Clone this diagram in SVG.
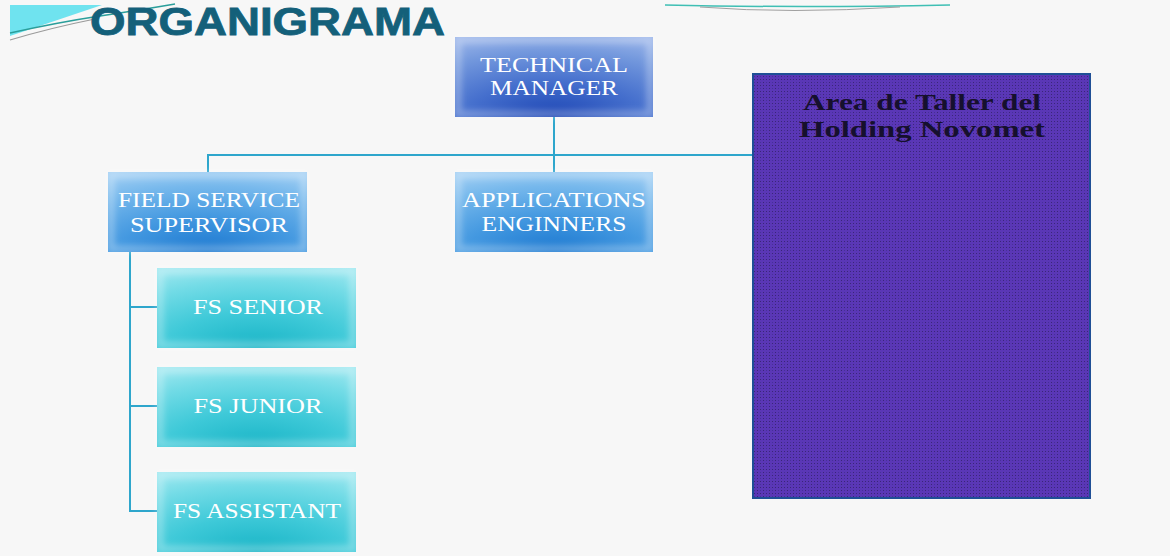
<svg xmlns="http://www.w3.org/2000/svg" width="1170" height="556" viewBox="0 0 1170 556">
<style>
.lbl{font-family:"Liberation Serif","Times New Roman",serif;font-size:22px;fill:#ffffff;text-anchor:middle}
.dark{font-family:"Liberation Serif","Times New Roman",serif;font-size:24px;font-weight:bold;fill:#16102e;text-anchor:middle}
.conn{stroke:#2ea6cc;stroke-width:2;fill:none}
.glow{fill:none;stroke:#ffffff;stroke-opacity:0.3;stroke-width:7;filter:url(#blur)}
</style>
<defs>
<filter id="blur" x="-10%" y="-20%" width="120%" height="140%"><feGaussianBlur stdDeviation="3"/></filter>
<radialGradient id="gTop" cx="50%" cy="100%" r="110%" fx="50%" fy="100%">
<stop offset="0" stop-color="#1c45b4"/><stop offset="0.4" stop-color="#456fcd"/><stop offset="0.75" stop-color="#7398dd"/><stop offset="1" stop-color="#9cb6ea"/>
</radialGradient>
<radialGradient id="gMid" cx="50%" cy="100%" r="110%" fx="50%" fy="100%">
<stop offset="0" stop-color="#1b78d0"/><stop offset="0.4" stop-color="#4398e0"/><stop offset="0.75" stop-color="#76b8ec"/><stop offset="1" stop-color="#a4d0f4"/>
</radialGradient>
<radialGradient id="gFs" cx="50%" cy="100%" r="110%" fx="50%" fy="100%">
<stop offset="0" stop-color="#18b4c6"/><stop offset="0.4" stop-color="#3ec9d8"/><stop offset="0.75" stop-color="#72dbe6"/><stop offset="1" stop-color="#a0e8f0"/>
</radialGradient>
<pattern id="dots" width="6" height="6" patternUnits="userSpaceOnUse">
<rect width="6" height="6" fill="#5a37b6"/>
<rect x="1" y="1" width="1" height="1" fill="#3a2678"/>
<rect x="4" y="1" width="1" height="1" fill="#3a2678"/>
<rect x="1" y="4" width="1" height="1" fill="#3a2678"/>
<rect x="4" y="4" width="1" height="1" fill="#46309a"/>
</pattern>
</defs>
<rect width="1170" height="556" fill="#f7f7f7"/>
<g id="decor">
<polygon points="10,5 102,5 10,36" fill="#6fe3ef"/>
<path d="M10,33 Q60,22 100,16 T175,4" stroke="#2a9e9a" stroke-width="1.5" fill="none"/>
<path d="M10,40 Q50,28 95,19" stroke="#9a9a9a" stroke-width="1.2" fill="none"/>
<path d="M665,5 Q800,8 950,5" stroke="#3fbfb4" stroke-width="1.5" fill="none"/>
<path d="M700,7 Q790,14 900,7" stroke="#a0a0a0" stroke-width="1" fill="none"/>
<text x="90" y="35" font-family="'Liberation Sans',Arial,sans-serif" font-weight="bold" font-size="38" fill="#14607a" stroke="#14607a" stroke-width="0.8" textLength="355" lengthAdjust="spacingAndGlyphs">ORGANIGRAMA</text>
</g>
<g id="connectors">
<path class="conn" d="M554,117 V172"/>
<path class="conn" d="M208,172 V155 H752"/>
<path class="conn" d="M130,252 V511 H157"/>
<path class="conn" d="M130,307 H157"/>
<path class="conn" d="M130,406 H157"/>
</g>
<g id="technical-manager">
<rect x="455" y="37" width="198" height="80" fill="url(#gTop)"/>
<rect class="glow" x="458" y="40" width="192" height="74"/>
<text class="lbl" x="554" y="72" textLength="148" lengthAdjust="spacingAndGlyphs">TECHNICAL</text>
<text class="lbl" x="554" y="95" textLength="128" lengthAdjust="spacingAndGlyphs">MANAGER</text>
</g>
<g id="field-service-supervisor">
<rect x="108" y="172" width="199" height="80" fill="url(#gMid)"/>
<rect class="glow" x="111" y="175" width="193" height="74"/>
<text class="lbl" x="209" y="207" textLength="182" lengthAdjust="spacingAndGlyphs">FIELD SERVICE</text>
<text class="lbl" x="209" y="232" textLength="158" lengthAdjust="spacingAndGlyphs">SUPERVISOR</text>
</g>
<g id="applications-engineers">
<rect x="455" y="172" width="198" height="80" fill="url(#gMid)"/>
<rect class="glow" x="458" y="175" width="192" height="74"/>
<text class="lbl" x="554" y="207" textLength="184" lengthAdjust="spacingAndGlyphs">APPLICATIONS</text>
<text class="lbl" x="554" y="231" textLength="145" lengthAdjust="spacingAndGlyphs">ENGINNERS</text>
</g>
<g id="fs-senior">
<rect x="157" y="268" width="199" height="80" fill="url(#gFs)"/>
<rect class="glow" x="160" y="271" width="193" height="74"/>
<text class="lbl" x="258" y="314" textLength="130" lengthAdjust="spacingAndGlyphs">FS SENIOR</text>
</g>
<g id="fs-junior">
<rect x="157" y="367" width="199" height="80" fill="url(#gFs)"/>
<rect class="glow" x="160" y="370" width="193" height="74"/>
<text class="lbl" x="258" y="413" textLength="129" lengthAdjust="spacingAndGlyphs">FS JUNIOR</text>
</g>
<g id="fs-assistant">
<rect x="157" y="472" width="199" height="80" fill="url(#gFs)"/>
<rect class="glow" x="160" y="475" width="193" height="74"/>
<text class="lbl" x="257" y="518" textLength="168" lengthAdjust="spacingAndGlyphs">FS ASSISTANT</text>
</g>
<g id="area-taller">
<rect x="753" y="74" width="337" height="424" fill="url(#dots)" stroke="#1f4f96" stroke-width="2"/>
<text class="dark" x="922" y="110" textLength="238" lengthAdjust="spacingAndGlyphs">Area de Taller del</text>
<text class="dark" x="922" y="137" textLength="246" lengthAdjust="spacingAndGlyphs">Holding Novomet</text>
</g>
</svg>
